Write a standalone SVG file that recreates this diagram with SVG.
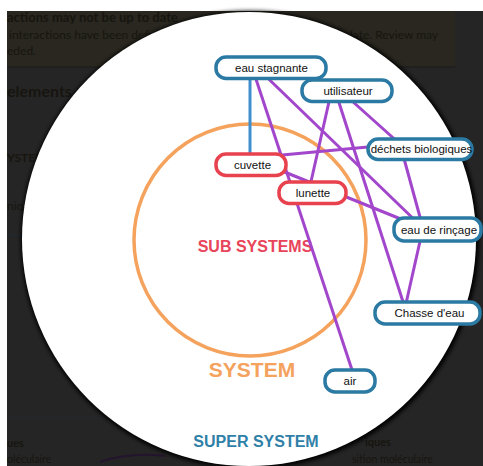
<svg xmlns="http://www.w3.org/2000/svg" width="483" height="466" viewBox="0 0 483 466">
<defs>
<style>
.bgtxt{font-family:"Lato","Liberation Sans",Arial,sans-serif;fill:#17150f}
.node rect{fill:#fff;stroke-width:3.5}
.outer rect{stroke:#2b7aa3}
.sub rect{stroke:#e8424f}
.node text{font-family:"Liberation Sans",Arial,sans-serif;font-size:11.5px;fill:#111;text-anchor:middle}
.edge{stroke:#a246cb;stroke-width:3;fill:none}
.edge.blue{stroke:#3f8fcf}
.zone{font-family:"Liberation Sans",Arial,sans-serif;font-weight:bold;text-anchor:middle}
</style>
<filter id="sh" x="-10%" y="-10%" width="120%" height="120%">
<feGaussianBlur stdDeviation="2.2"/>
</filter>
</defs>
<rect width="483" height="466" fill="#fff"/>
<g id="background">
<rect x="7" y="11" width="476" height="455" fill="#252525"/>
<rect x="7" y="11" width="448" height="56" fill="#29271f"/>
<line x1="7" y1="67" x2="455" y2="67" stroke="#1c1b16" stroke-width="1"/>
<text class="bgtxt" x="7" y="22" font-size="13" font-weight="bold">actions may not be up to date</text>
<text class="bgtxt" x="9" y="39" font-size="12">interactions have been defi</text>
<text class="bgtxt" x="7" y="55" font-size="12">eded.</text>
<text class="bgtxt" x="350" y="39" font-size="12">late. Review may</text>
<text class="bgtxt" x="7" y="97" font-size="16" font-weight="bold">elements</text>
<text class="bgtxt" x="7" y="162" font-size="12" font-weight="bold">YSTEM</text>
<text class="bgtxt" x="7" y="210" font-size="12">niq</text>
<line x1="7" y1="235" x2="60" y2="235" stroke="#1e2a33" stroke-width="1"/>
<line x1="7" y1="418" x2="110" y2="418" stroke="#1e2a33" stroke-width="1"/>
<text class="bgtxt" x="7" y="447" font-size="11" font-weight="bold">ues</text>
<text class="bgtxt" x="7" y="463" font-size="10.5">oléculaire</text>
<text class="bgtxt" x="365" y="446" font-size="11" font-weight="bold">iques</text>
<text class="bgtxt" x="352" y="463" font-size="10.5">sition moléculaire</text>
<path d="M100 462 Q130 452 165 456" stroke="#24142e" stroke-width="2" fill="none"/>
</g>
<g id="super-system-area">
<circle cx="250" cy="240" r="229" fill="#000" filter="url(#sh)"/>
<circle cx="249" cy="239" r="227" fill="#fff"/>
<text class="zone" x="256" y="447" font-size="16" fill="#2f7fa8">SUPER SYSTEM</text>
</g>
<g id="system-area">
<circle cx="250" cy="240" r="116" fill="none" stroke="#f5a25d" stroke-width="3.5"/>
<text class="zone" x="252" y="377" font-size="21" fill="#f5a25d">SYSTEM</text>
</g>
<g id="subsystem-label">
<text class="zone" x="255" y="252" font-size="16" fill="#e8445a">SUB SYSTEMS</text>
</g>
<g id="connectors">
<line class="edge blue" x1="250" y1="61" x2="250" y2="158"/>
<line class="edge" x1="250" y1="61" x2="354" y2="376"/>
<line class="edge" x1="250" y1="61" x2="423" y2="228"/>
<line class="edge" x1="333" y1="84" x2="310" y2="186"/>
<line class="edge" x1="333" y1="84" x2="405" y2="308"/>
<line class="edge" x1="333" y1="84" x2="400" y2="144"/>
<line class="edge" x1="250" y1="158" x2="400" y2="144"/>
<line class="edge" x1="250" y1="158" x2="423" y2="228"/>
<line class="edge" x1="400" y1="144" x2="423" y2="228"/>
<line class="edge" x1="423" y1="228" x2="405" y2="308"/>
</g>
<g id="node-eau-stagnante" class="node outer">
<rect x="216" y="57" width="110" height="21.5" rx="10"/>
<text x="271.5" y="71.5">eau stagnante</text>
</g>
<g id="node-utilisateur" class="node outer">
<rect x="302" y="80" width="90" height="21.5" rx="10"/>
<text x="348" y="94.5">utilisateur</text>
</g>
<g id="node-cuvette" class="node sub">
<rect x="216" y="154" width="70" height="21.5" rx="10"/>
<text x="252.5" y="168.5">cuvette</text>
</g>
<g id="node-lunette" class="node sub">
<rect x="279" y="182" width="67" height="21.5" rx="10"/>
<text x="313" y="196.5">lunette</text>
</g>
<g id="node-dechets-biologiques" class="node outer">
<rect x="368" y="139" width="104" height="20.5" rx="10"/>
<text x="421.5" y="153">déchets biologiques</text>
</g>
<g id="node-eau-de-rincage" class="node outer">
<rect x="394" y="218" width="87" height="23" rx="10"/>
<text x="439" y="233.5">eau de rinçage</text>
</g>
<g id="node-chasse-d-eau" class="node outer">
<rect x="375" y="302" width="105" height="22" rx="10"/>
<text x="429.5" y="317">Chasse d'eau</text>
</g>
<g id="node-air" class="node outer">
<rect x="325" y="370" width="50" height="22" rx="10"/>
<text x="350" y="385">air</text>
</g>
</svg>
